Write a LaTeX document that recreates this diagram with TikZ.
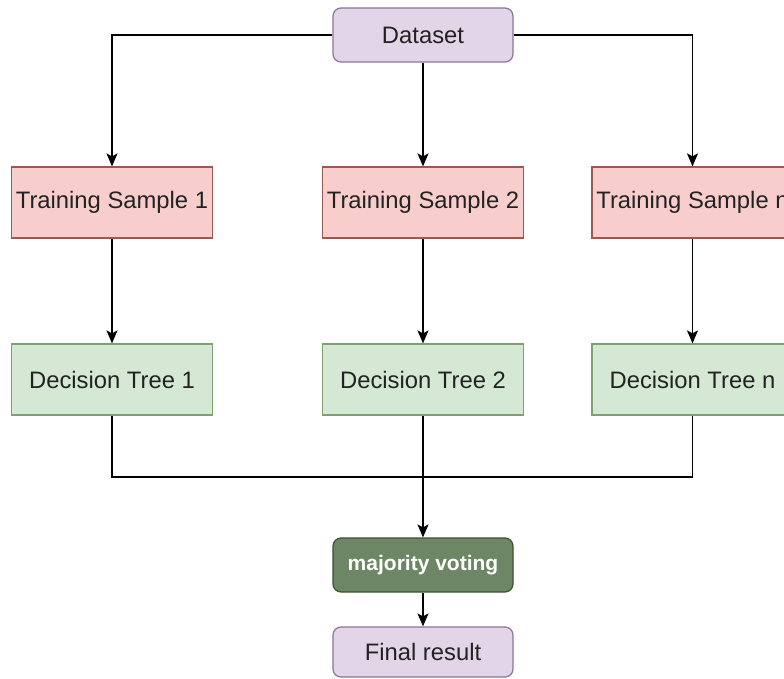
\documentclass[tikz,border=0pt]{standalone}
\usepackage{fontspec}
\setmainfont{Liberation Sans}
\usetikzlibrary{arrows.meta}
\definecolor{purpfill}{HTML}{E1D5E7}
\definecolor{purpline}{HTML}{8F7399}
\definecolor{redfill}{HTML}{F8CECC}
\definecolor{redline}{HTML}{9A5A52}
\definecolor{grnfill}{HTML}{D5E8D4}
\definecolor{grnline}{HTML}{7FA070}
\definecolor{darkfill}{HTML}{6D8764}
\definecolor{darkline}{HTML}{3A5431}
\definecolor{txt}{HTML}{222222}
\tikzset{
  box/.style={draw, line width=1.2pt, inner sep=0pt, align=center,
    font=\fontsize{23.8}{28}\selectfont, text=txt},
  purplebox/.style={box, fill=purpfill, draw=purpline, rounded corners=8pt,
    minimum width=180pt, minimum height=54pt},
  samplebox/.style={box, fill=redfill, draw=redline,
    minimum width=201pt, minimum height=71pt},
  treebox/.style={box, fill=grnfill, draw=grnline,
    minimum width=201pt, minimum height=71pt},
  votebox/.style={box, fill=darkfill, draw=darkline, rounded corners=8pt,
    minimum width=180pt, minimum height=54pt, text=white,
    font=\fontsize{21}{25}\bfseries},
  link/.style={draw=black, line width=1.5pt},
  arrow/.style={link, -{Stealth[length=13pt,width=11pt,inset=3pt]}}
}
\begin{document}
\begin{tikzpicture}[x=1pt,y=-1pt]
\useasboundingbox (0,0) rectangle (784,679);
\fill[white] (0,0) rectangle (784,679);
\clip (0,0) rectangle (784,679);

% source data
\node[purplebox] (data) at (423,35) {Dataset};

% bootstrap samples
\node[samplebox] (s1) at (112,202.5) {Training Sample 1};
\node[samplebox] (s2) at (423,202.5) {Training Sample 2};
\node[samplebox] (sn) at (692.5,202.5) {Training Sample n};

% one tree per sample
\node[treebox] (t1) at (112,379.5) {Decision Tree 1};
\node[treebox] (t2) at (423,379.5) {Decision Tree 2};
\node[treebox] (tn) at (692.5,379.5) {Decision Tree n};

% aggregation
\node[votebox] (vote) at (423,565) {majority voting};
\node[purplebox, minimum height=50pt] (final) at (423,652) {Final result};

\coordinate (join) at (423,477);

% dataset to samples
\draw[arrow] (data.west) -| (s1.north);
\draw[arrow] (data.south) -- (s2.north);
\draw[arrow] (data.east) -| (sn.north);

% samples to trees
\draw[arrow] (s1.south) -- (t1.north);
\draw[arrow] (s2.south) -- (t2.north);
\draw[arrow] (sn.south) -- (tn.north);

% trees to voting
\draw[link] (t1.south) |- (join);
\draw[link] (tn.south) |- (join);
\draw[arrow] (t2.south) -- (vote.north);
\draw[arrow] (vote.south) -- (final.north);
\end{tikzpicture}
\end{document}
